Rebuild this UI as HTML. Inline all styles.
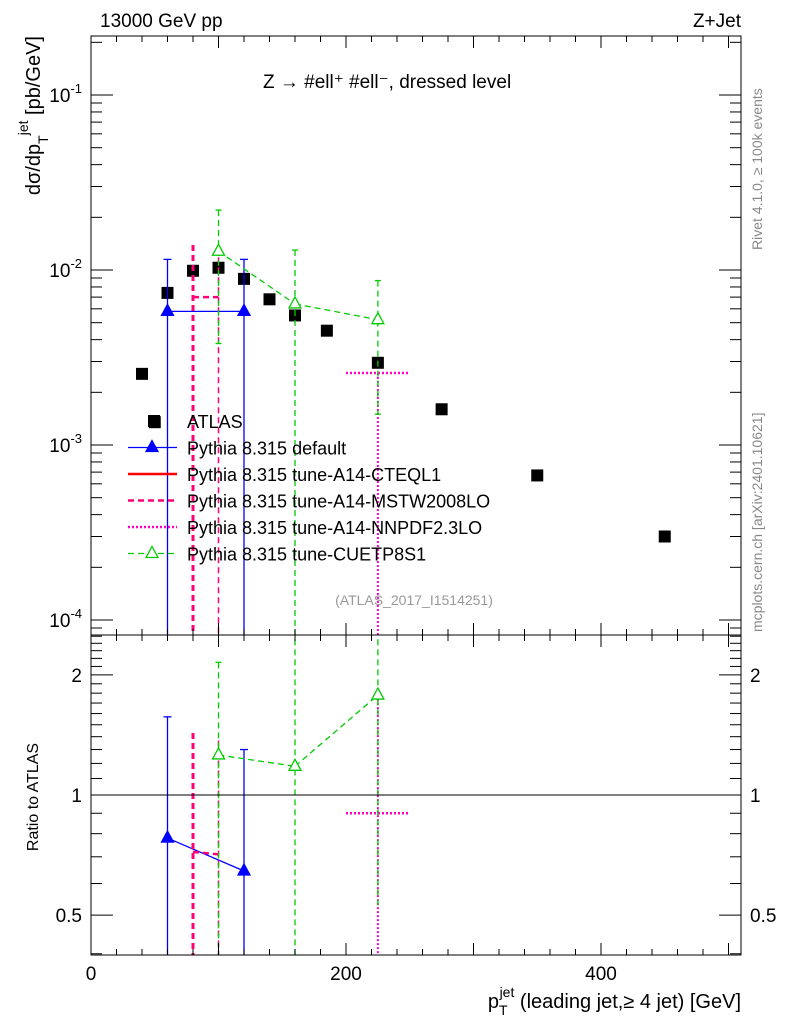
<!DOCTYPE html>
<html><head><meta charset="utf-8"><style>
body{margin:0;background:#fff;}
svg{display:block;font-family:"Liberation Sans",sans-serif;}
</style></head><body>
<svg id="c" width="786" height="1024"></svg>
<script>
const atlasX=[40,50,60,80,100,120,140,160,185,225,275,350,450];
const atlasY=[0.00255,0.00135,0.0074,0.0099,0.0103,0.0089,0.0068,0.0055,0.0045,0.00295,0.0016,0.00067,0.0003];
const defX=[60,120];const defY=[0.0058,0.0058];const defUp=[0.0115,0.0115];const defR=[0.78,0.645];const defRUp=[1.57,1.3];
const mstwX=[80,100];const mstwY=[0.007,0.007];const mstwUp=[0.0139,0.0135];const mstwR=[0.72,0.71];const mstwRUp=[1.43,1.37];
const nnX=[200,250];const nnY=[0.00258,0.00258];const nnR=[0.9,0.9];
const cuX=[100,160,225];const cuY=[0.0128,0.0064,0.0052];const cuUp=[0.022,0.013,0.0087];const cuLo=[0.0038,0.00001,0.0015];
const cuR=[1.26,1.18,1.78];const cuRUp=[2.15,2.6,2.6];const cuRLo=[0.2,0.2,0.52];
const xTicks=[0,200,400];const yTicks=[-1,-2,-3,-4];const rTicks=[0.5,1,2];
const NS="http://www.w3.org/2000/svg",svg=document.getElementById('c');
const L=91,R=741,T=36,M=635,B=955;
const X=v=>L+v*1.275;
const Y=v=>270-(Math.log10(v)+2)*175;
const RY=v=>795-Math.log10(v)*399;
function el(t,a,p){const e=document.createElementNS(NS,t);for(const k in a)e.setAttribute(k,a[k]);(p||svg).appendChild(e);return e;}
function txt(s,a,p){const e=el('text',a,p);e.textContent=s;return e;}
const clipD=el('defs',{});
const cp1=el('clipPath',{id:'cm'},clipD);el('rect',{x:L,y:T,width:R-L,height:M-T},cp1);
const cp2=el('clipPath',{id:'cr'},clipD);el('rect',{x:L,y:M,width:R-L,height:B-M},cp2);
const gm=el('g',{'clip-path':'url(#cm)'});
const gr=el('g',{'clip-path':'url(#cr)'});
el('rect',{x:L,y:T,width:R-L,height:M-T,fill:'none',stroke:'#000'});
el('rect',{x:L,y:M,width:R-L,height:B-M,fill:'none',stroke:'#000'});
for(let v=0;v<=500;v+=20){const big=v%100==0;const h=big?12:6;
 [T,M].forEach(y0=>el('line',{x1:X(v),x2:X(v),y1:y0,y2:y0+h,stroke:'#000'}));
 el('line',{x1:X(v),x2:X(v),y1:M,y2:M-h,stroke:'#000'});
 el('line',{x1:X(v),x2:X(v),y1:B,y2:B-h,stroke:'#000'});}
xTicks.forEach(v=>{const t=txt(v,{x:X(v),y:980,'font-size':19,'text-anchor':'middle'});});
for(let d=-5;d<=0;d++)for(let m=1;m<10;m++){const v=m*Math.pow(10,d);const y=Y(v);if(y<T||y>M)continue;const h=m==1?22:11;
 el('line',{x1:L,x2:L+h,y1:y,y2:y,stroke:'#000'});el('line',{x1:R,x2:R-h,y1:y,y2:y,stroke:'#000'});}
yTicks.forEach(d=>{const t=el('text',{x:82,y:Y(Math.pow(10,d))+7,'font-size':19,'text-anchor':'end'});
 t.appendChild(document.createTextNode('10'));const s=el('tspan',{dy:-9,'font-size':13},t);s.textContent=d;});
for(let v=0.4;v<2.6;v+=0.1){const y=RY(v);if(y<M||y>B)continue;const big=Math.abs(v-0.5)<.01||Math.abs(v-1)<.01||Math.abs(v-2)<.01;const h=big?22:11;
 el('line',{x1:L,x2:L+h,y1:y,y2:y,stroke:'#000'});el('line',{x1:R,x2:R-h,y1:y,y2:y,stroke:'#000'});}
rTicks.forEach(v=>{const a=txt(v,{x:82,y:RY(v)+7,'font-size':19,'text-anchor':'end'});
 const b=txt(v,{x:750,y:RY(v)+7,'font-size':19});});
el('line',{x1:L,x2:R,y1:RY(1),y2:RY(1),stroke:'#000'});
function tri(g,x,y,c,fill){el('path',{d:`M${x} ${y-7}L${x+6} ${y+4}L${x-6} ${y+4}Z`,fill:fill?c:'#fff',stroke:c,'stroke-width':1.3},g);}
function ln(g,x1,y1,x2,y2,c,da,w){el('line',{x1,y1,x2,y2,stroke:c,'stroke-width':w||1.3,'stroke-dasharray':da||'none'},g);}
atlasX.forEach((x,i)=>{const r=el('rect',{x:X(x)-6,y:Y(atlasY[i])-6,width:12,height:12,fill:'#000'},gm);});
ln(gm,X(defX[0]),Y(defY[0]),X(defX[1]),Y(defY[1]),'#00f');
defX.forEach((x,i)=>{ln(gm,X(x),Y(defUp[i]),X(x),M+5,'#00f');ln(gm,X(x)-4,Y(defUp[i]),X(x)+4,Y(defUp[i]),'#00f');tri(gm,X(x),Y(defY[i]),'#00f',1);});
ln(gr,X(defX[0]),RY(defR[0]),X(defX[1]),RY(defR[1]),'#00f');
defX.forEach((x,i)=>{ln(gr,X(x),RY(defRUp[i]),X(x),B+5,'#00f');ln(gr,X(x)-4,RY(defRUp[i]),X(x)+4,RY(defRUp[i]),'#00f');tri(gr,X(x),RY(defR[i]),'#00f',1);});
ln(gm,X(mstwX[0]),Y(mstwY[0]),X(mstwX[1]),Y(mstwY[1]),'#f07','6,4',2.5);
ln(gr,X(mstwX[0]),RY(mstwR[0]),X(mstwX[1]),RY(mstwR[1]),'#f07','6,4',2.5);
mstwX.forEach((x,i)=>{ln(gm,X(x),Y(mstwUp[i]),X(x),M+5,'#f07','6,4',i?1.5:3);ln(gr,X(x),RY(mstwRUp[i]),X(x),B+5,'#f07','6,4',i?1.5:3);});
ln(gm,X(nnX[0]),Y(nnY[0]),X(nnX[1]),Y(nnY[1]),'#f0c','2,2',2.5);
ln(gr,X(nnX[0]),RY(nnR[0]),X(nnX[1]),RY(nnR[1]),'#f0c','2,2',2.5);
ln(gm,X(225),Y(nnY[0]),X(225),M+5,'#f0c','2,2',2);ln(gr,X(225),RY(1.78),X(225),B+5,'#f0c','2,2',2);
for(let i=0;i<cuX.length-1;i++){ln(gm,X(cuX[i]),Y(cuY[i]),X(cuX[i+1]),Y(cuY[i+1]),'#0c0','6,4');ln(gr,X(cuX[i]),RY(cuR[i]),X(cuX[i+1]),RY(cuR[i+1]),'#0c0','6,4');}
cuX.forEach((x,i)=>{ln(gm,X(x),Y(cuUp[i]),X(x),Y(cuLo[i]),'#0c0','6,4');ln(gm,X(x)-3,Y(cuUp[i]),X(x)+3,Y(cuUp[i]),'#0c0');ln(gm,X(x)-3,Y(cuLo[i]),X(x)+3,Y(cuLo[i]),'#0c0');tri(gm,X(x),Y(cuY[i]),'#0c0',0);
 ln(gr,X(x),RY(cuRUp[i]),X(x),RY(cuRLo[i]),'#0c0','6,4');ln(gr,X(x)-3,RY(cuRUp[i]),X(x)+3,RY(cuRUp[i]),'#0c0');tri(gr,X(x),RY(cuR[i]),'#0c0',0);});
const lg=el('g',{});
const names=['ATLAS','Pythia 8.315 default','Pythia 8.315 tune-A14-CTEQL1','Pythia 8.315 tune-A14-MSTW2008LO','Pythia 8.315 tune-A14-NNPDF2.3LO','Pythia 8.315 tune-CUETP8S1'];
names.forEach((n,i)=>{const y=421+i*26.5;const t=txt(n,{x:187,y:y+7,'font-size':18},lg);
 if(i==0)el('rect',{x:148,y:y-6,width:12,height:12,fill:'#000'},lg);
 if(i==1){ln(lg,128,y,177,y,'#00f');tri(lg,152,y,'#00f',1);}
 if(i==2)ln(lg,128,y,177,y,'#f00','',2.5);
 if(i==3)ln(lg,128,y,177,y,'#f07','6,4',2.5);
 if(i==4)ln(lg,128,y,177,y,'#f0c','2,2',2.5);
 if(i==5){ln(lg,128,y,177,y,'#0c0','6,4');tri(lg,152,y,'#0c0',0);}});
function lab(s,a,n){const t=txt(s,a);return t;}
lab('13000 GeV pp',{x:100,y:27,'font-size':19},'energy-label');
lab('Z+Jet',{x:741,y:27,'font-size':19,'text-anchor':'end'},'process-label');
lab('Z → #ell⁺ #ell⁻, dressed level',{x:263,y:88,'font-size':19},'plot-title');
lab('(ATLAS_2017_I1514251)',{x:414,y:605,'font-size':14,fill:'#999','text-anchor':'middle'},'analysis-id');
lab('Rivet 4.1.0, ≥ 100k events',{x:0,y:0,'font-size':14,fill:'#888',transform:'translate(762,250) rotate(-90)'},'rivet-label');
lab('mcplots.cern.ch [arXiv:2401.10621]',{x:0,y:0,'font-size':14,fill:'#888',transform:'translate(762,632) rotate(-90)'},'mcplots-label');
const yl=lab('',{x:0,y:0,'font-size':20,'text-anchor':'end',transform:'translate(40,36) rotate(-90)'},'y-axis-title');
yl.innerHTML='dσ/dp<tspan dy="8" font-size="14">T</tspan><tspan dy="-20" font-size="14">jet</tspan><tspan dy="12"> [pb/GeV]</tspan>';
lab('Ratio to ATLAS',{x:0,y:0,'font-size':16,'text-anchor':'middle',transform:'translate(38,797) rotate(-90)'},'ratio-axis-title');
const xl=lab('',{x:741,y:1008,'font-size':20,'text-anchor':'end'},'x-axis-title');
xl.innerHTML='p<tspan dy="7" font-size="14">T</tspan><tspan dy="-18" dx="-8" font-size="14">jet</tspan><tspan dy="11"> (leading jet,≥ 4 jet) [GeV]</tspan>';
</script>
</body></html>
